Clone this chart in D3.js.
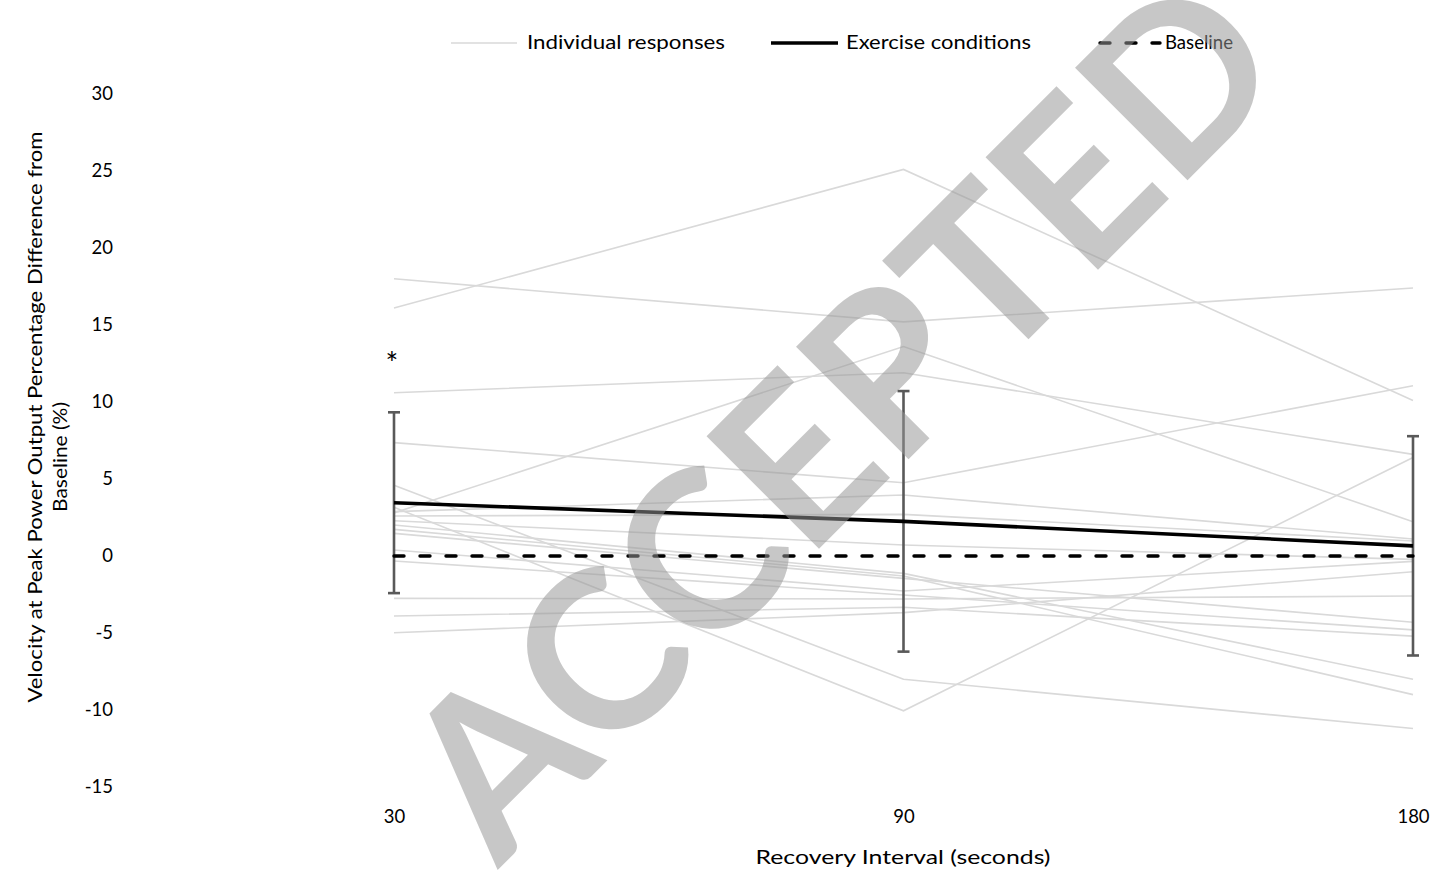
<!DOCTYPE html>
<html><head><meta charset="utf-8">
<script src="https://cdnjs.cloudflare.com/ajax/libs/d3/7.8.5/d3.min.js"></script>
<style>
html,body{margin:0;padding:0;background:#fff;}
svg{display:block;}
text{font-family:Lato, "Liberation Sans", sans-serif; fill:#000;}
</style></head>
<body>
<script>
// ---- data ----
const categories = ["30", "90", "180"];
const meanValues = [3.46, 2.25, 0.66];
const errorValues = [5.87, 8.46, 7.12];
const baselineValues = [0, 0, 0];
const yTickValues = [30, 25, 20, 15, 10, 5, 0, -5, -10, -15];
const individualResponses = [
  [18.0, 15.2, 17.4],
  [16.1, 25.1, 10.1],
  [10.6, 11.9, 6.6],
  [7.36, 4.76, 11.06],
  [2.8, 13.6, 2.23],
  [4.59, -8.0, -11.2],
  [3.16, -10.05, 6.4],
  [2.88, 3.96, 1.1],
  [2.6, 2.7, 0.97],
  [2.29, 0.71, -0.22],
  [2.01, -1.13, -8.0],
  [1.73, -1.3, -9.0],
  [1.47, -1.45, -4.3],
  [0.39, -2.27, -0.35],
  [-0.32, -2.53, -4.8],
  [-2.75, -2.79, -2.6],
  [-3.9, -3.33, -5.2],
  [-4.98, -3.68, -1.02]
];
const legendLabels = ["Individual responses", "Exercise conditions", "Baseline"];
const yTitleLines = ["Velocity at Peak Power Output Percentage Difference from", "Baseline (%)"];
const xTitle = "Recovery Interval (seconds)";
const watermark = "ACCEPTED";

// ---- chart ----
const W = 1439, H = 875;
const svg = d3.select("body").append("svg").attr("width", W).attr("height", H);

const x = d3.scalePoint().domain(categories).range([394, 1413]);
const y = d3.scaleLinear().domain([-15, 30]).range([787, 94]);

// y tick labels
const yAxis = d3.axisLeft(y).tickValues(yTickValues).tickSize(0).tickPadding(0).tickFormat(d => String(d));
const gy = svg.append("g").attr("transform", "translate(113,0)").call(yAxis);
gy.select(".domain").remove();
gy.selectAll("text").attr("font-size", 18.5).attr("font-family", "Lato, sans-serif").attr("fill", "#000");

// x tick labels
const xAxis = d3.axisBottom(x).tickSize(0).tickPadding(0);
const gx = svg.append("g").attr("transform", "translate(0,810)").call(xAxis);
gx.select(".domain").remove();
gx.selectAll("text").attr("font-size", 18.5).attr("font-family", "Lato, sans-serif").attr("fill", "#000");

const line = d3.line().x((d, i) => x(categories[i])).y(d => y(d));

// individual responses
svg.append("g").selectAll("path").data(individualResponses).join("path")
  .attr("d", line).attr("fill", "none").attr("stroke", "#d9d9d9").attr("stroke-width", 1.6);

// error bars
const eb = svg.append("g").attr("stroke", "#595959").attr("stroke-width", 2.6);
categories.forEach((c, i) => {
  const cx = x(c), top = y(meanValues[i] + errorValues[i]), bot = y(meanValues[i] - errorValues[i]);
  eb.append("line").attr("x1", cx).attr("x2", cx).attr("y1", top).attr("y2", bot);
  eb.append("line").attr("x1", cx - 6).attr("x2", cx + 6).attr("y1", top).attr("y2", top);
  eb.append("line").attr("x1", cx - 6).attr("x2", cx + 6).attr("y1", bot).attr("y2", bot);
});

// baseline
svg.append("path").datum(baselineValues).attr("d", line).attr("fill", "none")
  .attr("stroke", "#000").attr("stroke-width", 3.4).attr("stroke-dasharray", "10,16").attr("stroke-linecap", "round");

// mean line
svg.append("path").datum(meanValues).attr("d", line).attr("fill", "none")
  .attr("stroke", "#000").attr("stroke-width", 3.6);

// asterisk
svg.append("text").attr("x", x("30") - 2).attr("y", 374)
  .attr("text-anchor", "middle").attr("font-size", 30).text("*");

// legend
const lg = svg.append("g");
lg.append("line").attr("x1", 451).attr("x2", 517).attr("y1", 43).attr("y2", 43).attr("stroke", "#d9d9d9").attr("stroke-width", 1.6);
lg.append("text").attr("x", 527).attr("y", 49).attr("font-size", 18.5).attr("textLength", 198).attr("lengthAdjust", "spacingAndGlyphs").text(legendLabels[0]);
lg.append("line").attr("x1", 771).attr("x2", 838).attr("y1", 43).attr("y2", 43).attr("stroke", "#000").attr("stroke-width", 3.6);
lg.append("text").attr("x", 846).attr("y", 49).attr("font-size", 18.5).attr("textLength", 185).attr("lengthAdjust", "spacingAndGlyphs").text(legendLabels[1]);
lg.append("line").attr("x1", 1100).attr("x2", 1160).attr("y1", 43).attr("y2", 43).attr("stroke", "#000").attr("stroke-width", 3.4).attr("stroke-dasharray", "10,16").attr("stroke-linecap", "round");
lg.append("text").attr("x", 1165).attr("y", 49).attr("font-size", 18.5).attr("textLength", 68).attr("lengthAdjust", "spacingAndGlyphs").text(legendLabels[2]);

// y title
svg.append("text").attr("transform", "translate(42,417) rotate(-90)").attr("text-anchor", "middle")
  .attr("font-size", 19).attr("textLength", 571).attr("lengthAdjust", "spacingAndGlyphs").text(yTitleLines[0]);
svg.append("text").attr("transform", "translate(67,457) rotate(-90)").attr("text-anchor", "middle")
  .attr("font-size", 19).attr("textLength", 110).attr("lengthAdjust", "spacingAndGlyphs").text(yTitleLines[1]);

// x title
svg.append("text").attr("x", 903).attr("y", 864).attr("text-anchor", "middle").attr("font-size", 19)
  .attr("textLength", 295).attr("lengthAdjust", "spacingAndGlyphs").text(xTitle);

// watermark
svg.append("text").attr("transform", "translate(856,432) rotate(-45)")
  .attr("text-anchor", "middle").attr("dominant-baseline", "middle")
  .attr("font-family", "Liberation Sans, Arial, sans-serif").attr("font-weight", "bold")
  .attr("font-size", 220).style("fill", "rgb(150,150,150)").style("fill-opacity", 0.53)
  .text(watermark);
</script>
</body></html>
